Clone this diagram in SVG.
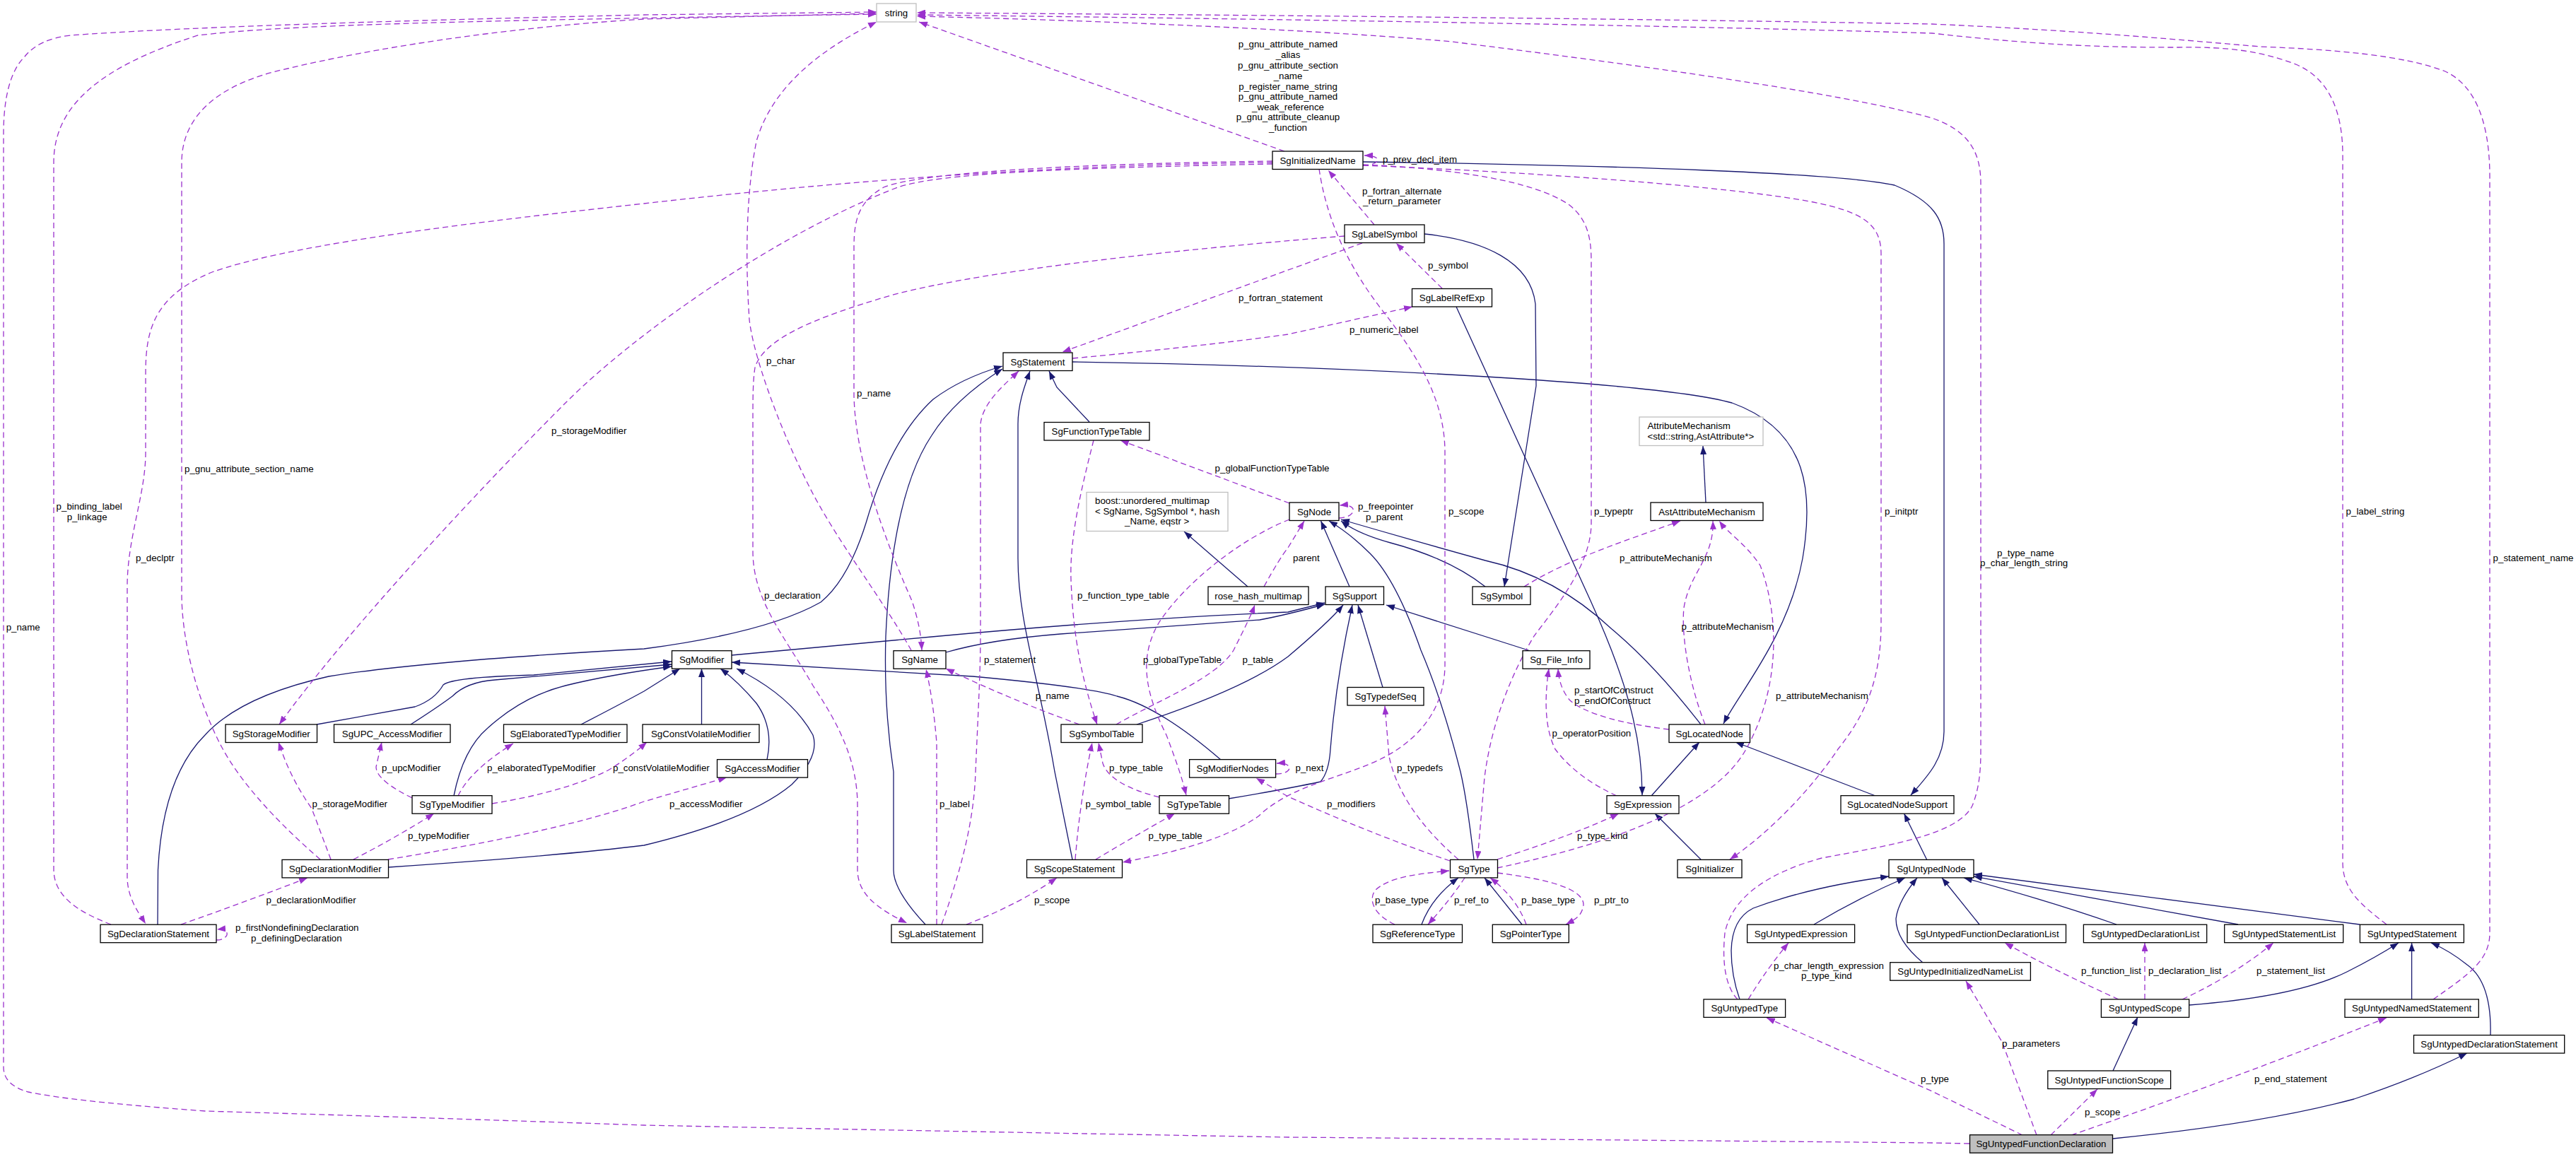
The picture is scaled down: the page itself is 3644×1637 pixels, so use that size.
<svg xmlns="http://www.w3.org/2000/svg" width="3644" height="1637" viewBox="0 0 3644 1637">
<style>
text{font-family:"Liberation Sans",Arial,sans-serif;font-size:13.3px;fill:#000}
.n rect{fill:#fff;stroke:#000;stroke-width:1.3}
.g rect{fill:#fff;stroke:#bfbfbf;stroke-width:1.3}
.n text,.g text.c{text-anchor:middle}
.h rect{fill:#bfbfbf}
.i{fill:none;stroke:#191970;stroke-width:1.3;marker-end:url(#an)}
.u{fill:none;stroke:#9a32cd;stroke-width:1.3;stroke-dasharray:8,5;marker-end:url(#ap)}
.lc{text-anchor:middle}
</style>
<defs>
<marker id="an" viewBox="0 0 12 9" refX="12" refY="4.5" markerWidth="12" markerHeight="9" markerUnits="userSpaceOnUse" orient="auto"><path d="M0,0L12,4.5L0,9z" fill="#191970"/></marker>
<marker id="ap" viewBox="0 0 12 9" refX="12" refY="4.5" markerWidth="12" markerHeight="9" markerUnits="userSpaceOnUse" orient="auto"><path d="M0,0L12,4.5L0,9z" fill="#9a32cd"/></marker>
</defs>
<rect width="3644" height="1637" fill="#fff"/>
<g id="edges">
<!-- inheritance -->
<path class="i" d="M1517,512 C1900,518 2340,540 2450,570 C2560,610 2565,700 2550,790 C2530,900 2460,980 2438,1024"/>
<path class="i" d="M1928,229 C2300,234 2600,245 2680,262 C2735,285 2750,310 2750,345 L2750,1035 C2750,1075 2725,1100 2703,1125"/>
<path class="i" d="M2015,331 C2100,340 2165,370 2172,430 L2173,546 L2128,830"/>
<path class="i" d="M2060,434 L2250,850 C2300,960 2323,1040 2323,1125"/>
<path class="i" d="M1541,597 L1495,548 L1484,525"/>
<path class="i" d="M1517,1216 L1492,1092 C1470,960 1440,880 1440,790 L1440,600 C1440,570 1450,545 1457,525"/>
<path class="i" d="M1309,1308 Q1264,1260 1264,1231 L1264,1092 Q1250,1000 1253,900 Q1262,700 1318,616 Q1350,565 1418,522"/>
<path class="i" d="M223,1308 L223.5,1231 Q230,1100 290,1040 Q340,985 465,957 Q600,935 911,918 Q1085,895 1161,852 Q1200,820 1225,740 Q1260,620 1320,565 Q1360,535 1418,518"/>
<path class="i" d="M448,1025 L587,1000 Q615,990 627,969 Q640,958 755,955 L950,936"/>
<path class="i" d="M581,1025 Q620,1000 640,985 Q660,965 700,962 L950,940"/>
<path class="i" d="M642,1126 Q655,1060 690,1030 Q740,985 800,970 Q860,955 950,943"/>
<path class="i" d="M822,1025 Q880,995 911,978 L962,946"/>
<path class="i" d="M992.5,1025 L992.5,946"/>
<path class="i" d="M1085,1075 Q1095,1030 1070,995 Q1045,965 1019,946"/>
<path class="i" d="M550,1227 Q800,1210 911,1196 Q1060,1160 1120,1110 Q1160,1070 1150,1040 Q1120,985 1042,946"/>
<path class="i" d="M1727,1075 Q1640,1000 1580,985 Q1540,972 1376,957 L1035,937"/>
<path class="i" d="M1035,927 L1318,901 Q1600,875 1822,866 L1874,853"/>
<path class="i" d="M1338,923 Q1400,905 1500,897 L1782,877 Q1820,870 1874,855"/>
<path class="i" d="M1765,830 L1675,752"/>
<path class="i" d="M2413,711 L2409,631"/>
<path class="i" d="M1608,1025 Q1760,975 1822,929 Q1880,880 1900,856"/>
<path class="i" d="M1909,830 L1868.5,737"/>
<path class="i" d="M2085,1216 Q2075,1130 2066,1092 Q2040,990 2010,920 Q1975,820 1938,783 Q1910,755 1880,737"/>
<path class="i" d="M2101,830 Q2050,790 1967,768 Q1920,755 1897,737"/>
<path class="i" d="M2406,1025 Q2340,940 2280,890 Q2200,815 2101,793 Q2000,765 1897,735"/>
<path class="i" d="M1956,972.5 L1921,856"/>
<path class="i" d="M1738,1130 Q1822,1116 1868,1106 Q1880,1092 1882,1060 Q1890,960 1913,856"/>
<path class="i" d="M2165,921 L1961,856"/>
<path class="i" d="M2653,1126 L2455,1050"/>
<path class="i" d="M2336,1126 L2404,1050"/>
<path class="i" d="M2406,1216 L2341,1151"/>
<path class="i" d="M2011,1308 Q2025,1270 2063,1242"/>
<path class="i" d="M2153,1308 L2100,1242"/>
<path class="i" d="M2725.5,1216 L2693.5,1151"/>
<path class="i" d="M2461,1414 Q2449,1380 2449,1345 Q2450,1300 2480,1285 Q2560,1255 2672,1240"/>
<path class="i" d="M2566,1308 Q2630,1270 2695,1242"/>
<path class="i" d="M2720,1362 Q2682,1330 2682,1300 Q2685,1275 2712,1242"/>
<path class="i" d="M2800,1308 L2747,1242"/>
<path class="i" d="M2994,1308 Q2900,1275 2778,1242"/>
<path class="i" d="M3166,1308 L2792,1240"/>
<path class="i" d="M3338,1308 L2792,1237"/>
<path class="i" d="M3097,1422 Q3250,1410 3320,1375 Q3360,1355 3393,1334"/>
<path class="i" d="M3411.6,1414 L3411.6,1334"/>
<path class="i" d="M3523,1465 Q3525,1390 3490,1365 Q3465,1345 3439,1334"/>
<path class="i" d="M2989,1515 L3024,1439"/>
<path class="i" d="M2989,1611 Q3200,1590 3330,1555 Q3420,1525 3490,1490"/>
<!-- usage -->
<path class="u" d="M1817,214 L1300,31"/>
<path class="u" d="M1928,234 C1952,234 1958,220 1930,220"/>
<path class="u" d="M1944,318 L1879,241"/>
<path class="u" d="M2040,408 L1975,344"/>
<path class="u" d="M1927,344 L1503,498"/>
<path class="u" d="M1517,507 Q1700,490 1822,473 L1998,434"/>
<path class="u" d="M1800,232 C1500,238 1330,245 1270,265 C1100,330 900,470 800,570 C700,670 500,880 395,1025"/>
<path class="u" d="M1800,230 C1500,233 1200,255 911,288 C600,322 400,350 300,385 C215,420 206,470 206,530 L206,640 C206,700 180,760 180,830 L180,1240 C180,1270 195,1290 206,1307"/>
<path class="u" d="M1800,228 C1500,232 1300,245 1250,265 C1215,285 1208,310 1208,350 L1208,560 C1210,650 1250,760 1290,850 C1300,880 1303,900 1304,920"/>
<path class="u" d="M1289,920 C1250,850 1180,760 1143,685 C1100,600 1065,500 1060,452 C1055,380 1054,280 1070,200 C1090,130 1150,75 1240,31"/>
<path class="u" d="M157,1308 C110,1290 76,1268 76,1230 L76,230 C76,150 140,95 280,50 C400,36 600,30 1240,20"/>
<path class="u" d="M453,1216 C400,1170 340,1110 310,1050 C275,980 257,900 257,840 L257,230 C257,170 300,120 407,97 C520,70 700,40 911,27 L1240,19"/>
<path class="u" d="M2786,1618 L2733,1617 Q2200,1612 1822,1609 Q1300,1600 911,1592 Q500,1578 290,1572 Q100,1558 40,1545 Q5,1535 5,1510 L5,190 Q5,110 35,80 Q55,55 100,50 Q300,35 911,21 L1240,17"/>
<path class="u" d="M2458,1414 C2440,1395 2436,1360 2440,1320 C2450,1270 2500,1235 2577,1214 C2680,1195 2770,1180 2790,1140 C2800,1115 2802,1090 2802,1060 L2802,260 C2802,215 2785,185 2733,167 C2600,130 2300,90 2054,59 C1900,45 1600,30 1297,23"/>
<path class="u" d="M3376,1308 C3340,1280 3314,1260 3314,1220 L3314,220 C3314,150 3290,110 3250,92 C3200,72 3150,66 3082,67 C3000,67 2900,66 2733,47 C2400,37 1900,28 1297,21"/>
<path class="u" d="M3442,1414 C3490,1380 3522,1360 3522,1320 L3522,250 C3522,170 3500,120 3459,101 C3400,78 3300,70 3198,66 C3100,58 2960,44 2733,34 C2400,28 1900,22 1297,18"/>
<path class="u" d="M1928,234 C2200,245 2450,265 2560,285 C2640,300 2661,320 2661,360 L2661,880 C2661,960 2640,1010 2600,1060 C2560,1120 2500,1180 2447,1216"/>
<path class="u" d="M1928,233 C2050,238 2170,255 2220,290 C2245,310 2251,335 2251,370 L2251,740 C2251,800 2200,860 2170,900 C2140,950 2110,1020 2100,1100 L2090,1216"/>
<path class="u" d="M1866,239 C1875,300 1900,370 1960,445 C2010,510 2044,570 2044,640 L2044,940 C2044,1000 2010,1050 1940,1080 C1880,1105 1822,1115 1780,1155 C1730,1190 1650,1208 1588,1220"/>
<path class="u" d="M1902,334 C1700,350 1400,380 1260,418 C1150,450 1080,480 1068,520 C1065,540 1065,560 1065,600 L1065,780 C1065,850 1110,900 1150,970 C1190,1030 1213,1080 1213,1140 L1213,1230 C1213,1265 1240,1285 1283,1306"/>
<path class="u" d="M1332,1308 C1360,1230 1378,1160 1380,1092 C1384,1000 1387,950 1387,894 L1387,600 C1390,570 1420,545 1441,525"/>
<path class="u" d="M1325,1308 L1325,1051 Q1320,990 1310,947"/>
<path class="u" d="M1367,1308 Q1440,1280 1495,1242"/>
<path class="u" d="M1547,623 C1530,690 1513,760 1515,820 C1518,900 1530,960 1552,1025"/>
<path class="u" d="M1824,712 L1585,623"/>
<path class="u" d="M1894,733 C1920,732 1922,712 1895,715"/>
<path class="u" d="M1788,830 Q1810,790 1822,775 L1845,737"/>
<path class="u" d="M1824,735 C1760,760 1680,820 1640,880 C1610,930 1620,980 1650,1040 C1665,1080 1672,1100 1678,1125"/>
<path class="u" d="M1579,1025 C1640,990 1720,960 1745,920 C1760,890 1770,870 1775,856"/>
<path class="u" d="M1527,1025 Q1430,990 1338,946"/>
<path class="u" d="M1640,1128 Q1570,1110 1560,1080 L1554,1051"/>
<path class="u" d="M1521,1216 Q1528,1130 1545,1051"/>
<path class="u" d="M1550,1216 Q1610,1180 1662,1151"/>
<path class="u" d="M2051,1218 Q1940,1180 1822,1127 L1777,1101"/>
<path class="u" d="M1805,1095 C1830,1095 1830,1078 1806,1080"/>
<path class="u" d="M2063,1216 C2010,1170 1975,1120 1965,1070 L1959,999"/>
<path class="u" d="M2118,1216 Q2230,1180 2290,1151"/>
<path class="u" d="M2118,1228 C2250,1200 2420,1150 2470,1060 C2515,980 2520,880 2490,800 C2470,770 2445,755 2432,737"/>
<path class="u" d="M2156,830 C2220,790 2300,765 2377,737"/>
<path class="u" d="M2412,1025 C2390,970 2378,900 2382,860 C2390,810 2425,790 2423,737"/>
<path class="u" d="M2287,1126 Q2230,1100 2200,1060 Q2180,1020 2191,946"/>
<path class="u" d="M2361,1032 C2300,1025 2240,1010 2220,990 C2208,975 2205,960 2204,946"/>
<path class="u" d="M1973,1308 C1945,1295 1935,1275 1945,1260 C1965,1240 2010,1236 2050,1232"/>
<path class="u" d="M2072,1242 Q2050,1275 2020,1308"/>
<path class="u" d="M2159,1308 Q2145,1270 2108,1242"/>
<path class="u" d="M2118,1235 C2200,1245 2240,1260 2240,1280 C2238,1295 2230,1300 2215,1308"/>
<path class="u" d="M2473,1414 Q2500,1370 2530,1334"/>
<path class="u" d="M2861,1606 L2733,1544 L2499,1440"/>
<path class="u" d="M2881,1606 L2832,1474 L2781,1388"/>
<path class="u" d="M2901,1606 L2967,1541"/>
<path class="u" d="M2930,1606 Q3150,1530 3376,1440"/>
<path class="u" d="M2997,1414 Q2900,1370 2836,1334"/>
<path class="u" d="M3034,1414 L3034,1334"/>
<path class="u" d="M3087,1414 Q3160,1380 3216,1334"/>
<path class="u" d="M256,1308 Q350,1275 435,1242"/>
<path class="u" d="M500,1216 Q560,1185 614,1151"/>
<path class="u" d="M549,1216 Q800,1175 911,1134 L1028,1100"/>
<path class="u" d="M468,1216 L441,1144 Q410,1100 394,1050"/>
<path class="u" d="M583,1129 C555,1115 532,1100 532,1085 L540,1050"/>
<path class="u" d="M648,1126 Q665,1090 726,1052"/>
<path class="u" d="M696,1137 Q800,1120 860,1090 Q890,1072 915,1050"/>
<path class="u" d="M306,1330 C325,1330 327,1313 307,1315"/>
</g>
<g id="labels">
<text class="lc" x="1822" y="67">p_gnu_attribute_named</text>
<text class="lc" x="1822" y="82">_alias</text>
<text class="lc" x="1822" y="97">p_gnu_attribute_section</text>
<text class="lc" x="1822" y="112">_name</text>
<text class="lc" x="1822" y="126.5">p_register_name_string</text>
<text class="lc" x="1822" y="141">p_gnu_attribute_named</text>
<text class="lc" x="1822" y="156">_weak_reference</text>
<text class="lc" x="1822" y="170">p_gnu_attribute_cleanup</text>
<text class="lc" x="1822" y="185">_function</text>
<text x="1956" y="230">p_prev_decl_item</text>
<text x="1927" y="275">p_fortran_alternate</text>
<text x="1928" y="289">_return_parameter</text>
<text x="2020" y="379.5">p_symbol</text>
<text x="1752" y="426">p_fortran_statement</text>
<text x="1909" y="470.5">p_numeric_label</text>
<text x="1084" y="515">p_char</text>
<text x="1212" y="561">p_name</text>
<text x="780" y="614">p_storageModifier</text>
<text x="261" y="667.5">p_gnu_attribute_section_name</text>
<text x="1718.6" y="667">p_globalFunctionTypeTable</text>
<text x="79.6" y="720.5">p_binding_label</text>
<text x="94.7" y="735.5">p_linkage</text>
<text x="1921" y="720.5">p_freepointer</text>
<text x="1932" y="735.5">p_parent</text>
<text x="2049" y="727.5">p_scope</text>
<text x="2255" y="727.5">p_typeptr</text>
<text x="2666" y="727.5">p_initptr</text>
<text x="3318.6" y="727.5">p_label_string</text>
<text x="2825" y="787">p_type_name</text>
<text x="2801" y="801">p_char_length_string</text>
<text x="192" y="794">p_declptr</text>
<text x="1829" y="794">parent</text>
<text x="2291" y="794">p_attributeMechanism</text>
<text x="3526.6" y="794">p_statement_name</text>
<text x="1081" y="846.5">p_declaration</text>
<text x="1524" y="846.5">p_function_type_table</text>
<text x="8.7" y="891.5">p_name</text>
<text x="2378.6" y="891">p_attributeMechanism</text>
<text x="1392" y="937.5">p_statement</text>
<text x="1617" y="937.5">p_globalTypeTable</text>
<text x="1757.5" y="937.5">p_table</text>
<text x="2227" y="981">p_startOfConstruct</text>
<text x="2227" y="996">p_endOfConstruct</text>
<text x="1464.7" y="989">p_name</text>
<text x="2512" y="989">p_attributeMechanism</text>
<text x="2195.6" y="1041.5">p_operatorPosition</text>
<text x="540" y="1091">p_upcModifier</text>
<text x="689" y="1091">p_elaboratedTypeModifier</text>
<text x="867" y="1091">p_constVolatileModifier</text>
<text x="1569" y="1091">p_type_table</text>
<text x="1832.5" y="1091">p_next</text>
<text x="1976" y="1091">p_typedefs</text>
<text x="441.6" y="1142">p_storageModifier</text>
<text x="947" y="1142">p_accessModifier</text>
<text x="1329" y="1142">p_label</text>
<text x="1535.6" y="1142">p_symbol_table</text>
<text x="1877" y="1142">p_modifiers</text>
<text x="577" y="1187">p_typeModifier</text>
<text x="1624.5" y="1187">p_type_table</text>
<text x="2231" y="1187">p_type_kind</text>
<text x="376.5" y="1278">p_declarationModifier</text>
<text x="1463" y="1278">p_scope</text>
<text x="1945" y="1278">p_base_type</text>
<text x="2057" y="1278">p_ref_to</text>
<text x="2152" y="1278">p_base_type</text>
<text x="2255" y="1278">p_ptr_to</text>
<text x="333" y="1317">p_firstNondefiningDeclaration</text>
<text x="355" y="1332">p_definingDeclaration</text>
<text x="2509" y="1371">p_char_length_expression</text>
<text x="2548" y="1385">p_type_kind</text>
<text x="2944" y="1378">p_function_list</text>
<text x="3039" y="1378">p_declaration_list</text>
<text x="3192" y="1378">p_statement_list</text>
<text x="2832" y="1481">p_parameters</text>
<text x="2717" y="1531">p_type</text>
<text x="3189" y="1531">p_end_statement</text>
<text x="2949" y="1578">p_scope</text>
</g>
<g id="string" class="g"><rect x="1240" y="5" width="56" height="26"/><text class="c" x="1268" y="22.5">string</text></g>
<g id="SgInitializedName" class="n"><rect x="1800" y="214" width="128" height="25.5"/><text x="1864" y="231.5">SgInitializedName</text></g>
<g id="SgLabelSymbol" class="n"><rect x="1902" y="318" width="113" height="25.5"/><text x="1958.5" y="335.5">SgLabelSymbol</text></g>
<g id="SgLabelRefExp" class="n"><rect x="1997.5" y="408.5" width="113" height="25.5"/><text x="2054" y="426">SgLabelRefExp</text></g>
<g id="SgStatement" class="n"><rect x="1419" y="499" width="98" height="25.5"/><text x="1468" y="516.5">SgStatement</text></g>
<g id="SgFunctionTypeTable" class="n"><rect x="1477" y="597.5" width="149" height="25.5"/><text x="1551.5" y="615">SgFunctionTypeTable</text></g>
<g id="boost_unordered_multimap" class="g"><rect x="1537" y="696.5" width="200" height="55"/><text x="1549" y="713">boost::unordered_multimap</text><text x="1549" y="727.5">&lt; SgName, SgSymbol *, hash</text><text x="1591" y="742">_Name, eqstr &gt;</text></g>
<g id="AttributeMechanism" class="g"><rect x="2319" y="590" width="175" height="40.5"/><text x="2330.4" y="607">AttributeMechanism</text><text x="2330.4" y="621.5">&lt;std::string,AstAttribute*&gt;</text></g>
<g id="SgNode" class="n"><rect x="1824" y="711" width="70" height="25.5"/><text x="1859" y="728.5">SgNode</text></g>
<g id="AstAttributeMechanism" class="n"><rect x="2335" y="711" width="159" height="25.5"/><text x="2414.5" y="728.5">AstAttributeMechanism</text></g>
<g id="rose_hash_multimap" class="n"><rect x="1709" y="830" width="142" height="25.5"/><text x="1780" y="847.5">rose_hash_multimap</text></g>
<g id="SgSupport" class="n"><rect x="1875" y="830" width="82.5" height="25.5"/><text x="1916.25" y="847.5">SgSupport</text></g>
<g id="SgSymbol" class="n"><rect x="2083" y="830" width="82" height="25.5"/><text x="2124" y="847.5">SgSymbol</text></g>
<g id="SgModifier" class="n"><rect x="950.5" y="920.7" width="84.5" height="25.5"/><text x="992.75" y="938.2">SgModifier</text></g>
<g id="SgName" class="n"><rect x="1264" y="920.7" width="74" height="25.5"/><text x="1301" y="938.2">SgName</text></g>
<g id="Sg_File_Info" class="n"><rect x="2154" y="920.7" width="95" height="25.5"/><text x="2201.5" y="938.2">Sg_File_Info</text></g>
<g id="SgTypedefSeq" class="n"><rect x="1906" y="972.5" width="108" height="25.5"/><text x="1960" y="990">SgTypedefSeq</text></g>
<g id="SgStorageModifier" class="n"><rect x="319" y="1025" width="129.5" height="25.5"/><text x="383.75" y="1042.5">SgStorageModifier</text></g>
<g id="SgUPC_AccessModifier" class="n"><rect x="472.5" y="1025" width="164.5" height="25.5"/><text x="554.75" y="1042.5">SgUPC_AccessModifier</text></g>
<g id="SgElaboratedTypeModifier" class="n"><rect x="712.5" y="1025" width="174.5" height="25.5"/><text x="799.75" y="1042.5">SgElaboratedTypeModifier</text></g>
<g id="SgConstVolatileModifier" class="n"><rect x="909" y="1025" width="165" height="25.5"/><text x="991.5" y="1042.5">SgConstVolatileModifier</text></g>
<g id="SgSymbolTable" class="n"><rect x="1501" y="1025" width="115" height="25.5"/><text x="1558.5" y="1042.5">SgSymbolTable</text></g>
<g id="SgLocatedNode" class="n"><rect x="2361" y="1025" width="114.5" height="25.5"/><text x="2418.25" y="1042.5">SgLocatedNode</text></g>
<g id="SgAccessModifier" class="n"><rect x="1014.5" y="1074.6" width="128" height="25.5"/><text x="1078.5" y="1092.1">SgAccessModifier</text></g>
<g id="SgModifierNodes" class="n"><rect x="1682.6" y="1074.6" width="122" height="25.5"/><text x="1743.6" y="1092.1">SgModifierNodes</text></g>
<g id="SgTypeModifier" class="n"><rect x="583" y="1125.7" width="113" height="25.5"/><text x="639.5" y="1143.2">SgTypeModifier</text></g>
<g id="SgTypeTable" class="n"><rect x="1640" y="1125.7" width="98.5" height="25.5"/><text x="1689.25" y="1143.2">SgTypeTable</text></g>
<g id="SgExpression" class="n"><rect x="2273" y="1125.7" width="102" height="25.5"/><text x="2324" y="1143.2">SgExpression</text></g>
<g id="SgLocatedNodeSupport" class="n"><rect x="2604" y="1125.7" width="160" height="25.5"/><text x="2684" y="1143.2">SgLocatedNodeSupport</text></g>
<g id="SgDeclarationModifier" class="n"><rect x="399" y="1216.4" width="150.5" height="25.5"/><text x="474.25" y="1233.9">SgDeclarationModifier</text></g>
<g id="SgScopeStatement" class="n"><rect x="1452.5" y="1216.4" width="135" height="25.5"/><text x="1520" y="1233.9">SgScopeStatement</text></g>
<g id="SgType" class="n"><rect x="2051.5" y="1216.4" width="67" height="25.5"/><text x="2085" y="1233.9">SgType</text></g>
<g id="SgInitializer" class="n"><rect x="2373" y="1216.4" width="91" height="25.5"/><text x="2418.5" y="1233.9">SgInitializer</text></g>
<g id="SgUntypedNode" class="n"><rect x="2672" y="1216.4" width="120" height="25.5"/><text x="2732" y="1233.9">SgUntypedNode</text></g>
<g id="SgDeclarationStatement" class="n"><rect x="142" y="1308.2" width="164" height="25.5"/><text x="224" y="1325.7">SgDeclarationStatement</text></g>
<g id="SgLabelStatement" class="n"><rect x="1261" y="1308.2" width="129" height="25.5"/><text x="1325.5" y="1325.7">SgLabelStatement</text></g>
<g id="SgReferenceType" class="n"><rect x="1942" y="1308.2" width="126.5" height="25.5"/><text x="2005.25" y="1325.7">SgReferenceType</text></g>
<g id="SgPointerType" class="n"><rect x="2111.3" y="1308.2" width="108" height="25.5"/><text x="2165.3" y="1325.7">SgPointerType</text></g>
<g id="SgUntypedExpression" class="n"><rect x="2471.6" y="1308.2" width="152" height="25.5"/><text x="2547.6" y="1325.7">SgUntypedExpression</text></g>
<g id="SgUntypedFunctionDeclarationList" class="n"><rect x="2698" y="1308.2" width="224.5" height="25.5"/><text x="2810.25" y="1325.7">SgUntypedFunctionDeclarationList</text></g>
<g id="SgUntypedDeclarationList" class="n"><rect x="2947.4" y="1308.2" width="174.3" height="25.5"/><text x="3034.55" y="1325.7">SgUntypedDeclarationList</text></g>
<g id="SgUntypedStatementList" class="n"><rect x="3146.7" y="1308.2" width="168" height="25.5"/><text x="3230.7" y="1325.7">SgUntypedStatementList</text></g>
<g id="SgUntypedStatement" class="n"><rect x="3338.4" y="1308.2" width="147" height="25.5"/><text x="3411.9" y="1325.7">SgUntypedStatement</text></g>
<g id="SgUntypedInitializedNameList" class="n"><rect x="2673.7" y="1361.7" width="198.7" height="25.5"/><text x="2773.05" y="1379.2">SgUntypedInitializedNameList</text></g>
<g id="SgUntypedType" class="n"><rect x="2410" y="1413.9" width="115.6" height="25.5"/><text x="2467.8" y="1431.4">SgUntypedType</text></g>
<g id="SgUntypedScope" class="n"><rect x="2972.4" y="1413.9" width="124.3" height="25.5"/><text x="3034.55" y="1431.4">SgUntypedScope</text></g>
<g id="SgUntypedNamedStatement" class="n"><rect x="3317" y="1413.9" width="189.3" height="25.5"/><text x="3411.65" y="1431.4">SgUntypedNamedStatement</text></g>
<g id="SgUntypedDeclarationStatement" class="n"><rect x="3414.5" y="1464.6" width="213.2" height="25.5"/><text x="3521.1" y="1482.1">SgUntypedDeclarationStatement</text></g>
<g id="SgUntypedFunctionScope" class="n"><rect x="2896.8" y="1515" width="173.8" height="25.5"/><text x="2983.7" y="1532.5">SgUntypedFunctionScope</text></g>
<g id="SgUntypedFunctionDeclaration" class="n h"><rect x="2786.5" y="1605.7" width="202" height="25.5"/><text x="2887.5" y="1623.2">SgUntypedFunctionDeclaration</text></g>
</svg>
